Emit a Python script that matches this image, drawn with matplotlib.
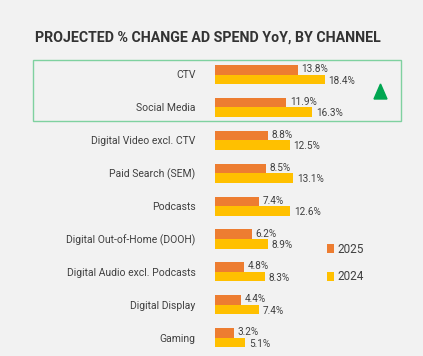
import matplotlib
matplotlib.use("Agg")
import matplotlib.pyplot as plt
from matplotlib.patches import Rectangle, Polygon

channels = ["CTV", "Social Media", "Digital Video excl. CTV", "Paid Search (SEM)",
            "Podcasts", "Digital Out-of-Home (DOOH)", "Digital Audio excl. Podcasts",
            "Digital Display", "Gaming"]
spend_2025 = [13.8, 11.9, 8.8, 8.5, 7.4, 6.2, 4.8, 4.4, 3.2]
spend_2024 = [18.4, 16.3, 12.5, 13.1, 12.6, 8.9, 8.3, 7.4, 5.1]

W, H = 423, 356
bg = "#f2f2f2"
c25 = "#ed7d31"
c24 = "#ffc000"
txt = "#404040"

plt.rcParams['font.family'] = ['Roboto', 'DejaVu Sans']

fig = plt.figure(figsize=(W / 100, H / 100), dpi=100, facecolor=bg)

# axes placed in pixel terms: x=0 at 215px, 5.98 px per %
left, right = 215, 401
top, bottom = 55, 350
ax = fig.add_axes([left / W, 1 - bottom / H, (right - left) / W, (bottom - top) / H])
ax.set_facecolor("none")
ax.set_xlim(0, (right - left) / 5.98)
row = 32.9
ax.set_ylim((bottom - 74.5) / row, -(74.5 - top) / row)

y = list(range(len(channels)))
bh = 0.29
ax.barh([i - bh / 2 for i in y], spend_2025, height=bh, color=c25, label="2025")
ax.barh([i + bh / 2 for i in y], spend_2024, height=bh, color=c24, label="2024")

for i, (a, b) in enumerate(zip(spend_2025, spend_2024)):
    ax.text(a + 0.6, i - bh / 2 - 0.02, f"{a}%", va="center", ha="left", fontsize=7.2, color=txt)
    ax.text(b + 0.6, i + bh / 2 + 0.04, f"{b}%", va="center", ha="left", fontsize=7.2, color=txt)

ax.set_yticks(y, channels)
ax.tick_params(axis="y", length=0, pad=14, labelsize=7.5, labelcolor=txt)
ax.set_xticks([])
for s in ax.spines.values():
    s.set_visible(False)

ax.legend(loc="upper left", bbox_to_anchor=(327 / W, 1 - 243 / H), bbox_transform=fig.transFigure,
          frameon=False, fontsize=8.5, handlelength=0.6, handleheight=0.8, handletextpad=0.3,
          labelspacing=1.2, labelcolor=txt, borderpad=0, borderaxespad=0)

# highlight box and up arrow
fig.patches.append(Rectangle((33 / W, 1 - 121 / H), (401 - 33) / W, (121 - 60) / H,
                             transform=fig.transFigure, fill=False, edgecolor="#7fd1a0", lw=1))
fig.patches.append(Polygon([(374 / W, 1 - 99 / H), (387 / W, 1 - 99 / H), (380.5 / W, 1 - 84 / H)],
                           transform=fig.transFigure, color="#00a651"))

fig.text(35 / W, 1 - 38 / H, "PROJECTED % CHANGE AD SPEND YoY, BY CHANNEL",
         fontsize=10.2, fontweight="bold", color="#333333", va="center", ha="left")

plt.savefig("out.png", dpi=100, facecolor=bg)
